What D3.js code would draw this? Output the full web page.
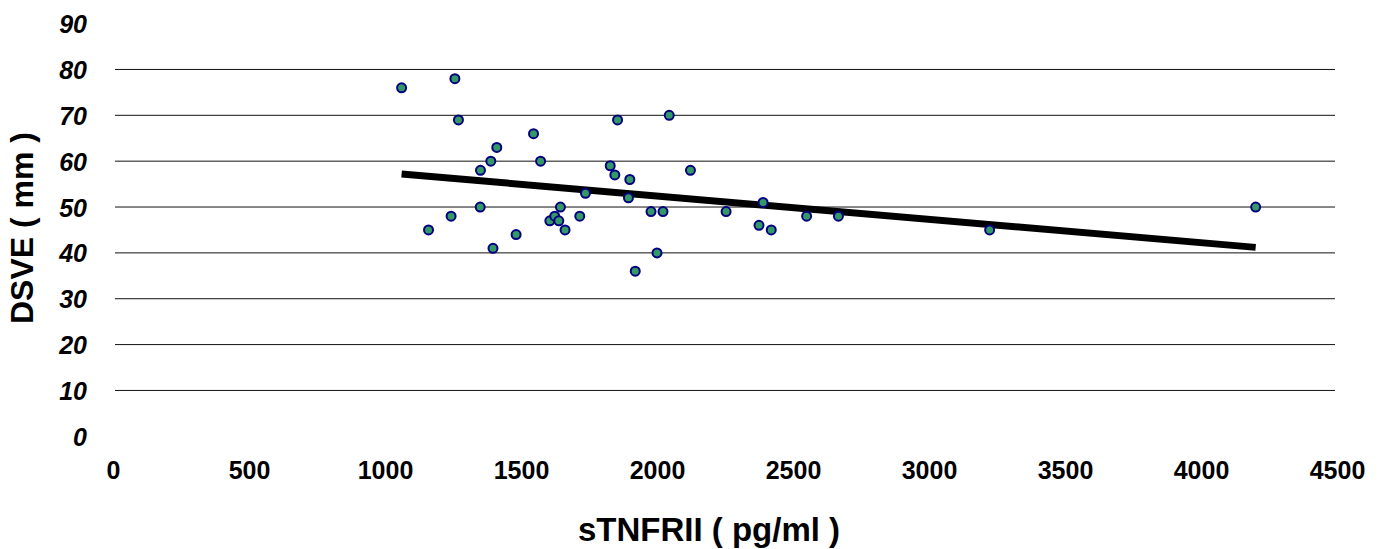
<!DOCTYPE html>
<html>
<head>
<meta charset="utf-8">
<script src="https://cdn.jsdelivr.net/npm/d3@7"></script>
<style>
  body { margin: 0; background: #fff; }
  svg text { font-family: "Liberation Sans", Arial, sans-serif; font-weight: bold; fill: #000; }
</style>
</head>
<body>
<div id="chart"></div>
<script>
// sTNFRII (pg/ml) and DSVE (mm)
var stnfr = [1061, 1257, 1270, 1546, 1411, 1389, 1572, 1351, 1350, 1243, 1160, 1482, 1397, 1606,
             1645, 1624, 1639, 1662, 1716, 1737, 1855, 2045, 1828, 1845, 1900, 1895, 1978, 2022,
             2123, 2254, 2000, 1920, 2390, 2375, 2420, 2550, 2667, 3223, 4201];
var dsve = [76, 78, 69, 66, 63, 60, 60, 58, 50, 48, 45, 44, 41, 47,
            50, 48, 47, 45, 48, 53, 69, 70, 59, 57, 56, 52, 49, 49,
            58, 49, 40, 36, 51, 46, 45, 48, 48, 45, 50];
var trendX = [1061, 4201];
var trendY = [57.2, 41.2];
var xTicks = [0, 500, 1000, 1500, 2000, 2500, 3000, 3500, 4000, 4500];
var yTicks = [0, 10, 20, 30, 40, 50, 60, 70, 80, 90];
var gridTicks = [10, 20, 30, 40, 50, 60, 70, 80];

function drawScatter(placement, w, h) {
    var svg = d3.select(placement).append("svg")
        .attr("width", w).attr("height", h);

    var x = d3.scaleLinear().domain([0, 4500]).range([113, 1337]);
    var y = d3.scaleLinear().domain([0, 90]).range([436.3, 23.6]);

    // horizontal grid lines
    svg.append("g")
        .selectAll("line")
        .data(gridTicks)
        .enter().append("line")
        .attr("x1", x(0) + 2)
        .attr("x2", x(4500) - 2)
        .attr("y1", function(d) { return y(d); })
        .attr("y2", function(d) { return y(d); })
        .attr("stroke", "#111")
        .attr("stroke-width", 1);

    // y tick labels
    var yAxis = d3.axisLeft(y).tickValues(yTicks).tickSize(0).tickPadding(0);
    var gy = svg.append("g").attr("transform", "translate(87,0)").call(yAxis);
    gy.select(".domain").remove();
    gy.selectAll("text")
        .attr("x", 0)
        .attr("dy", "0.36em")
        .style("font-size", "25px")
        .style("font-style", "italic")
        .style("font-family", "'Liberation Sans', Arial, sans-serif")
        .style("font-weight", "bold");

    // x tick labels
    var xAxis = d3.axisBottom(x).tickValues(xTicks).tickSize(0).tickFormat(d3.format("d"));
    var gx = svg.append("g").call(xAxis);
    gx.select(".domain").remove();
    gx.selectAll("text")
        .attr("y", 479)
        .attr("dy", 0)
        .style("font-size", "25px")
        .style("font-family", "'Liberation Sans', Arial, sans-serif")
        .style("font-weight", "bold");

    // trend line
    svg.append("line")
        .attr("x1", x(trendX[0])).attr("y1", y(trendY[0]))
        .attr("x2", x(trendX[1])).attr("y2", y(trendY[1]))
        .attr("stroke", "#000")
        .attr("stroke-width", 7);

    // points
    var pts = stnfr.map(function(v, i) { return {x: v, y: dsve[i]}; });
    svg.append("g").selectAll("circle")
        .data(pts)
        .enter().append("circle")
        .attr("cx", function(d) { return x(d.x); })
        .attr("cy", function(d) { return y(d.y); })
        .attr("r", 4.5)
        .style("fill", "#339966")
        .style("stroke", "#000080")
        .style("stroke-width", 2);

    // axis titles
    svg.append("text")
        .attr("x", 709)
        .attr("y", 541)
        .style("text-anchor", "middle")
        .style("font-size", "33px")
        .text("sTNFRII ( pg/ml )");

    svg.append("text")
        .attr("transform", "translate(33,228) rotate(-90)")
        .style("text-anchor", "middle")
        .style("font-size", "32px")
        .text("DSVE ( mm )");
}

drawScatter("#chart", 1388, 549);
</script>
</body>
</html>
